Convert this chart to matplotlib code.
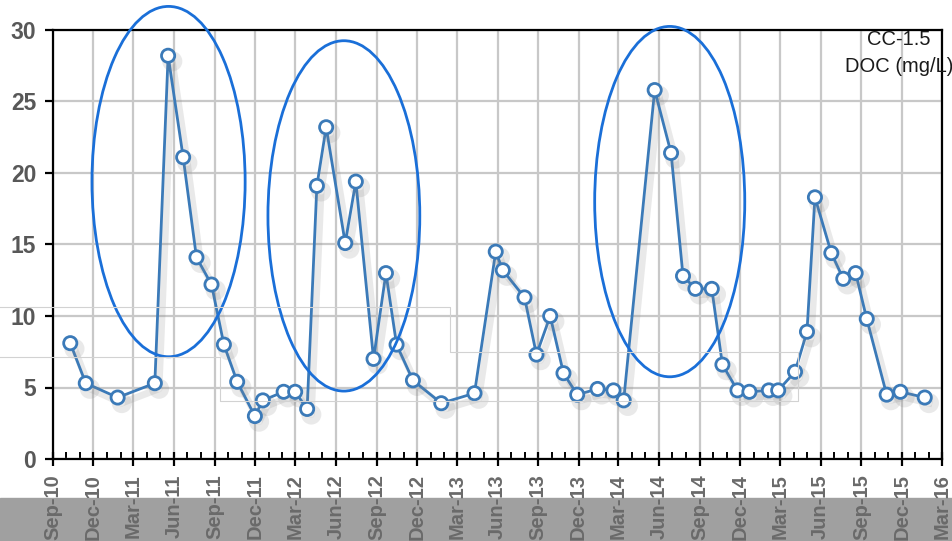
import numpy as np
import matplotlib.pyplot as plt
import matplotlib.dates as mdates
import matplotlib.patheffects as pe
from matplotlib.patches import Ellipse, Rectangle
from matplotlib.lines import Line2D

plt.rcParams['font.family'] = ['Liberation Sans', 'DejaVu Sans']

# DOC samples at CC-1.5
dates = ['2010-10-10', '2010-11-14', '2011-01-25', '2011-04-19', '2011-05-19',
         '2011-06-22', '2011-07-22', '2011-08-25', '2011-09-22', '2011-10-22',
         '2011-12-01', '2011-12-19', '2012-02-04', '2012-03-01', '2012-03-28',
         '2012-04-19', '2012-05-10', '2012-06-22', '2012-07-16', '2012-08-25',
         '2012-09-22', '2012-10-16', '2012-11-22', '2013-01-25', '2013-04-10',
         '2013-05-28', '2013-06-13', '2013-08-01', '2013-08-28', '2013-09-28',
         '2013-10-28', '2013-11-28', '2014-01-13', '2014-02-18', '2014-03-13',
         '2014-05-22', '2014-06-28', '2014-07-25', '2014-08-22', '2014-09-28',
         '2014-10-22', '2014-11-25', '2014-12-22', '2015-02-04', '2015-02-25',
         '2015-04-04', '2015-05-01', '2015-05-19', '2015-06-25', '2015-07-22',
         '2015-08-19', '2015-09-13', '2015-10-28', '2015-11-28', '2016-01-22']
doc = [8.1, 5.3, 4.3, 5.3, 28.2,
       21.1, 14.1, 12.2, 8.0, 5.4,
       3.0, 4.1, 4.7, 4.7, 3.5,
       19.1, 23.2, 15.1, 19.4, 7.0,
       13.0, 8.0, 5.5, 3.9, 4.6,
       14.5, 13.2, 11.3, 7.3, 10.0,
       6.0, 4.5, 4.9, 4.8, 4.1,
       25.8, 21.4, 12.8, 11.9, 11.9,
       6.6, 4.8, 4.7, 4.8, 4.8,
       6.1, 8.9, 18.3, 14.4, 12.6,
       13.0, 9.8, 4.5, 4.7, 4.3]

# highlighted peaks (center date, center value, width in days, height)
ell_center = ['2011-05-20', '2012-06-19', '2014-06-25']
ell_value = [19.4, 17.0, 18.0]
ell_width = [346, 343, 339]
ell_height = [24.5, 24.5, 24.5]

x = mdates.datestr2num(dates)

fig = plt.figure(figsize=(9.53, 5.41), dpi=100)
fig.patches.append(Rectangle((0, 0), 1, 43 / 541, transform=fig.transFigure,
                             color='#a0a0a0', zorder=-5))

# faint pasted-box artefacts in the original
px = np.array([0, 450, 450, 798, 798, 220, 220, 0])
py = np.array([307, 307, 352, 352, 401, 401, 357, 357])
fig.lines.append(Line2D(px / 953, 1 - py / 541, transform=fig.transFigure,
                        color='#d2d2d2', lw=0.8, zorder=5))

ax = fig.add_axes([53 / 953, 1 - 459 / 541, 889 / 953, 429 / 541])

ax.plot(x, doc, color='#3b7ab8', lw=2, marker='o', ms=9.5, mfc='white',
        mec='#3b7ab8', mew=2, zorder=4,
        path_effects=[pe.SimpleLineShadow(offset=(3, -4), shadow_color='#888888',
                                          alpha=0.18, linewidth=5),
                      pe.Normal()])

for c, v, w, h in zip(ell_center, ell_value, ell_width, ell_height):
    ax.add_patch(Ellipse((mdates.datestr2num(c), v), w, h, fill=False,
                         ec='#1a6fd8', lw=2, zorder=5, clip_on=False))

ax.set_xlim(mdates.datestr2num('2010-09-01'), mdates.datestr2num('2016-03-01'))
ax.set_ylim(0, 30)
ax.set_yticks([0, 5, 10, 15, 20, 25, 30])

ax.xaxis.set_major_locator(mdates.MonthLocator(bymonth=[3, 6, 9, 12]))
ax.xaxis.set_minor_locator(mdates.MonthLocator())
ax.xaxis.set_major_formatter(mdates.DateFormatter('%b-%y'))

ax.grid(True, which='major', color='#c8c8c8', lw=1.6, zorder=0)
ax.set_axisbelow(True)

for s in ax.spines.values():
    s.set_linewidth(1.6)
    s.set_color('black')

ax.tick_params(axis='x', which='major', direction='inout', length=10, width=1.6,
               labelsize=14.5, labelcolor='#6a6a6a', pad=6, labelrotation=90)
ax.tick_params(axis='x', which='minor', direction='in', length=5, width=1.4)
ax.tick_params(axis='y', direction='out', length=6, width=1.6, labelsize=16.5,
               labelcolor='#585858', pad=6)
for lab in ax.get_xticklabels() + ax.get_yticklabels():
    lab.set_fontweight('bold')

fig.text(899 / 953, 1 - 45 / 541, 'CC-1.5', ha='center', va='baseline',
         fontsize=14.5, color='#1a1a1a')
fig.text(899 / 953, 1 - 72 / 541, 'DOC (mg/L)', ha='center', va='baseline',
         fontsize=14.5, color='#1a1a1a')

fig.savefig('out.png', dpi=100)
